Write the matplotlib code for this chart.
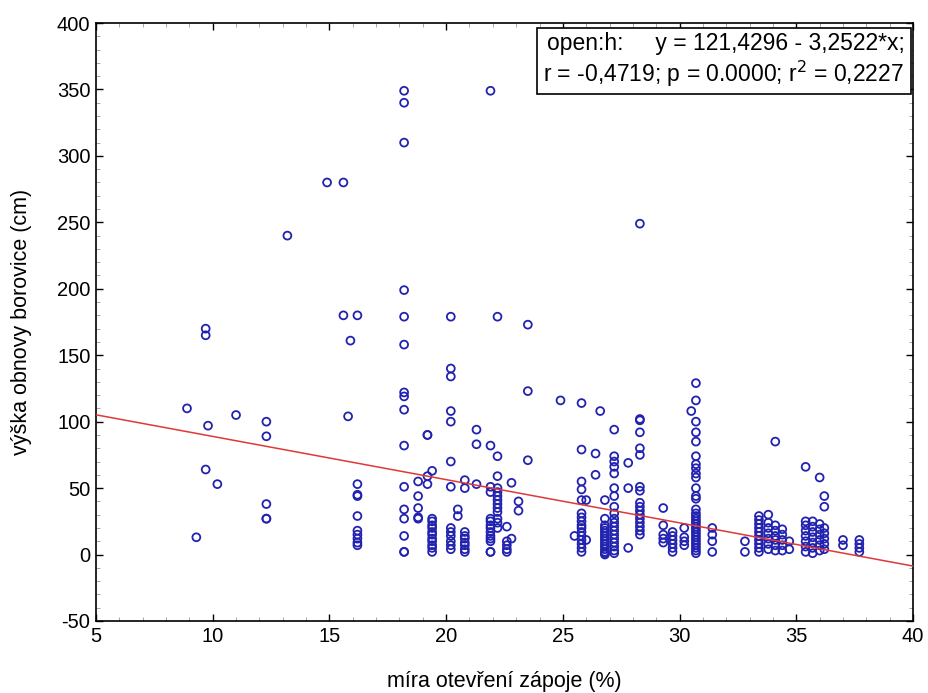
import matplotlib
matplotlib.use("Agg")
import matplotlib.pyplot as plt
from matplotlib.ticker import MultipleLocator

plt.rcParams['font.family'] = ['Liberation Sans', 'DejaVu Sans']
plt.rcParams['axes.unicode_minus'] = False

# x positions of the data columns (míra otevření zápoje, %)
col_x = [8.9, 9.3, 9.7, 9.8, 10.2, 11.0, 12.3, 13.2, 14.9, 15.6, 15.8, 15.9, 16.2,
         18.2, 18.8, 19.2, 19.4, 20.2, 20.5, 20.8, 21.3, 21.9, 22.2, 22.6, 22.8,
         23.1, 23.5, 24.9, 25.5, 25.8, 26.0, 26.4, 26.6, 26.8, 27.2, 27.8, 28.3,
         29.3, 29.7, 30.2, 30.5, 30.7, 31.4, 32.8, 33.4, 33.8, 34.1, 34.4, 34.7,
         35.4, 35.7, 36.0, 36.2, 37.0, 37.7]

# heights (cm) observed at each column
col_y = [
    [110], [13], [170, 165, 64], [97], [53], [105],
    [100, 89, 38, 27, 27], [240], [280], [280, 180], [104], [161],
    [180, 53, 45, 44, 29, 18, 15, 12, 9, 7],
    [349, 340, 310, 199, 179, 158, 122, 119, 109, 82, 51, 34, 27, 14, 2, 2],
    [55, 44, 35, 28, 27],
    [90, 90, 59, 53],
    [63, 27, 25, 22, 20, 17, 15, 12, 10, 7, 5, 2],
    [179, 140, 134, 108, 100, 70, 51, 20, 17, 14, 10, 7, 4],
    [34, 29],
    [56, 50, 17, 14, 12, 9, 7, 4, 2],
    [94, 83, 53],
    [349, 82, 51, 47, 27, 25, 22, 20, 17, 14, 12, 10, 2, 2],
    [179, 74, 59, 50, 47, 44, 41, 38, 35, 32, 27, 24, 20],
    [21, 10, 7, 4, 2],
    [54, 12],
    [40, 33],
    [173, 123, 71],
    [116],
    [14],
    [114, 79, 55, 49, 41, 31, 28, 25, 22, 20, 17, 14, 11, 8, 5, 2],
    [41, 11],
    [76, 60],
    [108],
    [41, 27, 22, 20, 18, 16, 14, 12, 10, 8, 6, 4, 2, 1, 0],
    [94, 74, 70, 66, 61, 50, 44, 36, 31, 27, 24, 21, 18, 15, 12, 9, 6, 3, 1],
    [69, 50, 5],
    [249, 102, 101, 92, 80, 75, 51, 48, 39, 36, 33, 30, 27, 24, 21, 18, 15],
    [35, 22, 15, 12, 9],
    [17, 14, 11, 8, 5, 2],
    [20, 13, 10, 7],
    [108],
    [129, 116, 100, 92, 85, 74, 68, 65, 61, 58, 50, 44, 42, 34, 31, 29, 27, 25,
     23, 21, 19, 17, 15, 13, 11, 9, 7, 5, 3, 1],
    [20, 15, 10, 2],
    [10, 2],
    [29, 26, 23, 20, 17, 14, 11, 8, 5, 2],
    [30, 24, 20, 16, 12, 8, 4],
    [85, 22, 18, 14, 11, 7, 3],
    [19, 15, 11, 7, 3],
    [10, 4],
    [66, 25, 22, 18, 14, 10, 6, 2],
    [25, 21, 17, 13, 9, 5, 1],
    [58, 23, 19, 15, 11, 7, 3],
    [44, 36, 20, 16, 12, 8, 4],
    [11, 7],
    [11, 8, 5, 2],
]

# regression y = a + b*x
intercept = 121.4296
slope = -3.2522
line_x = [5, 40]

xs, ys = [], []
for cx, vals in zip(col_x, col_y):
    for v in vals:
        xs.append(cx)
        ys.append(v)

fig = plt.figure(figsize=(9.29, 6.93), dpi=100)
ax = fig.add_axes([0.1033, 0.1039, 0.8795, 0.8629])

ax.scatter(xs, ys, s=32, facecolors='none', edgecolors='#2222b0', linewidths=1.3, zorder=3)
ax.plot(line_x, [intercept + slope * x for x in line_x], color='#e03838', lw=1.1, zorder=4)

ax.set_xlim(5, 40)
ax.set_ylim(-50, 400)
ax.xaxis.set_major_locator(MultipleLocator(5))
ax.yaxis.set_major_locator(MultipleLocator(50))
ax.xaxis.set_minor_locator(MultipleLocator(1))
ax.yaxis.set_minor_locator(MultipleLocator(10))
ax.tick_params(which='both', direction='in', top=True, right=True)
ax.tick_params(which='major', length=5, width=1, labelsize=14.5, pad=4)
ax.tick_params(which='minor', length=3, width=0.6, color='#999999')
for sp in ax.spines.values():
    sp.set_linewidth(1.2)

ax.set_xlabel('míra otevření zápoje (%)', fontsize=15.5, labelpad=18)
ax.set_ylabel('výška obnovy borovice (cm)', fontsize=15.5, labelpad=18)

ax.text(0.99, 0.985,
        'open:h:     y = 121,4296 - 3,2522*x;\nr = -0,4719; p = 0.0000; r$^2$ = 0,2227 ',
        transform=ax.transAxes, ha='right', va='top', fontsize=16.5, linespacing=1.15,
        bbox=dict(boxstyle='square,pad=0.25', facecolor='white', edgecolor='black', lw=1.2),
        zorder=5)

fig.savefig('out.png', dpi=100)
